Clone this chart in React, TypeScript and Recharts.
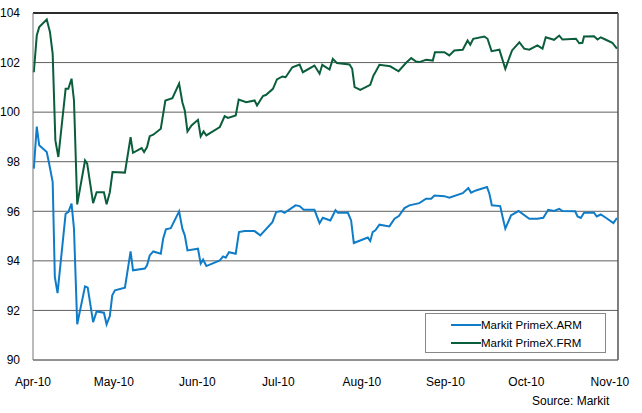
import React from 'react';
import { LineChart, Line, XAxis, YAxis, CartesianGrid, ReferenceLine } from 'recharts';

// x = days since 1 Apr 2010
const monthTicks = [0, 30, 61, 91, 122, 153, 183, 214];
const monthLabels = ['Apr-10', 'May-10', 'Jun-10', 'Jul-10', 'Aug-10', 'Sep-10', 'Oct-10', 'Nov-10'];
const yTicks = [90, 92, 94, 96, 98, 100, 102, 104];

const armDays = [
  0.3, 1.4, 2.3, 5.1, 6.0, 7.3, 8.1, 9.1, 12.1, 13.1, 14.3, 15.2, 16.4, 19.3, 20.3, 22.3, 23.6, 26.3, 27.3, 28.5,
  29.4, 30.4, 34.1, 36.2, 37.1, 41.5, 42.3, 43.3, 44.6, 47.4, 48.3, 49.3, 51.1, 54.2, 55.4, 56.3, 57.3, 61.2, 62.2, 63.1,
  64.3, 69.3, 70.5, 71.5, 72.7, 75.2, 76.4, 78.5, 82.2, 84.3, 88.8, 90.2, 92.1, 93.3, 97.4, 98.9, 100.4, 104.4, 106.3, 107.5,
  110.3, 112.2, 113.1, 116.8, 118.0, 119.0, 124.2, 125.1, 126.0, 127.0, 128.5, 132.2, 134.1, 135.7, 137.8, 139.6, 143.3, 145.8, 147.7, 148.9,
  152.6, 154.4, 159.4, 161.5, 162.5, 164.3, 168.4, 169.3, 170.2, 173.3, 174.2, 175.2, 177.3, 180.1, 184.1, 187.1, 189.3, 191.1, 193.3, 195.2,
  196.4, 201.1, 202.0, 203.2, 204.4, 208.1, 209.1, 210.6, 212.5, 215.3, 216.6,
];
const armValues = [
  97.72, 99.42, 98.66, 98.39, 97.92, 97.18, 93.35, 92.70, 95.90, 95.97, 96.31, 95.30, 91.44, 92.97, 92.92, 91.53, 91.96, 91.91, 91.44, 91.77,
  92.61, 92.81, 92.92, 94.38, 93.62, 93.69, 93.82, 94.22, 94.38, 94.29, 94.90, 95.27, 95.32, 96.0, 95.30, 95.03, 94.42, 94.49, 93.89, 94.05,
  93.79, 94.02, 94.18, 94.13, 94.35, 94.29, 95.16, 95.20, 95.20, 95.03, 95.56, 95.97, 96.01, 95.94, 96.24, 96.21, 96.06, 96.06, 95.52, 95.74,
  95.63, 96.04, 95.94, 95.94, 95.63, 94.72, 94.94, 94.80, 95.16, 95.23, 95.46, 95.39, 95.70, 95.81, 96.13, 96.24, 96.33, 96.51, 96.51, 96.64,
  96.61, 96.55, 96.73, 96.94, 96.75, 96.84, 96.98, 96.71, 96.24, 96.21, 95.77, 95.30, 95.83, 96.01, 95.70, 95.70, 95.74, 96.06, 96.01, 96.10,
  96.01, 96.0, 95.79, 95.73, 95.94, 95.94, 95.79, 95.87, 95.74, 95.52, 95.73,
];

const frmDays = [
  0.3, 1.4, 2.3, 5.1, 6.3, 7.3, 8.3, 9.4, 12.1, 13.1, 14.3, 15.2, 16.4, 19.3, 20.1, 22.3, 23.6, 26.3, 27.3, 28.5,
  29.5, 34.1, 36.2, 37.1, 40.3, 41.2, 42.3, 43.3, 44.6, 47.4, 49.1, 51.7, 54.2, 55.4, 56.3, 57.3, 58.8, 61.2, 62.2, 63.3,
  64.3, 69.3, 71.1, 72.3, 75.2, 76.3, 79.1, 82.2, 83.1, 85.3, 86.5, 89.0, 90.5, 92.5, 93.7, 96.2, 98.9, 100.1, 104.4, 106.3,
  107.3, 110.0, 111.2, 112.7, 117.4, 118.4, 119.3, 121.4, 125.1, 126.3, 127.0, 128.5, 132.5, 135.6, 138.4, 140.3, 142.1, 143.3, 145.8, 148.3,
  149.1, 152.6, 154.4, 156.3, 159.4, 161.2, 162.2, 163.3, 167.4, 168.6, 170.1, 173.0, 175.2, 177.7, 180.4, 182.2, 184.1, 187.1, 189.0, 190.2,
  193.3, 195.2, 196.4, 201.4, 202.6, 203.8, 204.4, 208.1, 209.4, 210.6, 212.5, 214.9, 216.6,
];
const frmValues = [
  101.61, 103.09, 103.43, 103.74, 103.23, 102.35, 98.86, 98.19, 100.94, 100.94, 101.35, 100.47, 96.28, 98.05, 97.92, 96.33, 96.77, 96.77, 96.28, 96.77,
  97.58, 97.56, 98.99, 98.36, 98.55, 98.39, 98.59, 99.03, 99.09, 99.33, 100.47, 100.56, 101.15, 100.40, 100.07, 99.22, 99.46, 99.69, 99.02, 99.22,
  99.06, 99.40, 99.84, 99.77, 99.87, 100.51, 100.40, 100.47, 100.27, 100.65, 100.70, 100.94, 101.32, 101.44, 101.41, 101.81, 101.92, 101.61, 101.88, 101.55,
  101.91, 101.72, 102.15, 101.98, 101.92, 101.75, 101.01, 100.90, 101.10, 101.48, 101.61, 101.91, 101.85, 101.65, 101.99, 102.18, 102.04, 102.02, 102.11, 102.08,
  102.42, 102.42, 102.29, 102.49, 102.52, 102.89, 102.72, 102.96, 103.05, 102.96, 102.46, 102.52, 101.75, 102.49, 102.82, 102.56, 102.52, 102.69, 102.56, 103.02,
  102.92, 103.09, 102.93, 102.96, 102.78, 102.80, 103.05, 103.06, 102.93, 103.02, 102.92, 102.80, 102.56,
];

const armData = armDays.map((d, i) => ({ day: d, value: armValues[i] }));
const frmData = frmDays.map((d, i) => ({ day: d, value: frmValues[i] }));

const ARM_COLOR = '#0f7cc8';
const FRM_COLOR = '#0b5e3c';
const FONT = 'Arial, "Liberation Sans", sans-serif';

const legendRows = [
  { name: 'Markit PrimeX.ARM', color: ARM_COLOR },
  { name: 'Markit PrimeX.FRM', color: FRM_COLOR },
];

function BoxLegend() {
  return (
    <div
      style={{
        position: 'absolute',
        left: 425,
        top: 313,
        width: 181,
        height: 40,
        boxSizing: 'border-box',
        border: '1px solid #888',
        background: '#fff',
        padding: '2px 0 0 25px',
        fontFamily: FONT,
        fontSize: 11.5,
        color: '#000',
      }}
    >
      {legendRows.map((r) => (
        <div key={r.name} style={{ display: 'flex', alignItems: 'center', height: 18 }}>
          <span style={{ display: 'inline-block', width: 30, height: 2, background: r.color }} />
          <span>{r.name}</span>
        </div>
      ))}
    </div>
  );
}

export default function App() {
  return (
    <div style={{ position: 'absolute', left: 0, top: 0, width: 642, height: 413, background: '#fff' }}>
      <LineChart width={642} height={413} margin={{ top: 13, right: 24, left: 0, bottom: 0 }}>
        <CartesianGrid vertical={false} stroke="#606060" strokeWidth={1} />
        <XAxis
          dataKey="day"
          type="number"
          domain={[0, 217]}
          ticks={monthTicks}
          tickFormatter={(v: number) => monthLabels[monthTicks.indexOf(v)]}
          tickLine={false}
          axisLine={{ stroke: '#777' }}
          tickMargin={11}
          height={53}
          tick={{ fill: '#000', fontSize: 12, fontFamily: FONT }}
        />
        <YAxis
          type="number"
          domain={[90, 104]}
          ticks={yTicks}
          width={33}
          tickLine={false}
          axisLine={{ stroke: '#777' }}
          tickMargin={7}
          tick={{ fill: '#000', fontSize: 12, fontFamily: FONT }}
        />
        <ReferenceLine y={104} stroke="#000" strokeWidth={1.5} />
        <ReferenceLine x={217} stroke="#555" strokeWidth={1.5} />
        <Line
          data={armData}
          dataKey="value"
          name="Markit PrimeX.ARM"
          stroke={ARM_COLOR}
          strokeWidth={2}
          dot={false}
          type="linear"
          isAnimationActive={false}
        />
        <Line
          data={frmData}
          dataKey="value"
          name="Markit PrimeX.FRM"
          stroke={FRM_COLOR}
          strokeWidth={2}
          dot={false}
          type="linear"
          isAnimationActive={false}
        />
      </LineChart>
      <BoxLegend />
      <div
        style={{
          position: 'absolute',
          left: 532,
          top: 394,
          fontFamily: FONT,
          fontSize: 12,
          color: '#000',
          whiteSpace: 'nowrap',
        }}
      >
        Source: Markit
      </div>
    </div>
  );
}
